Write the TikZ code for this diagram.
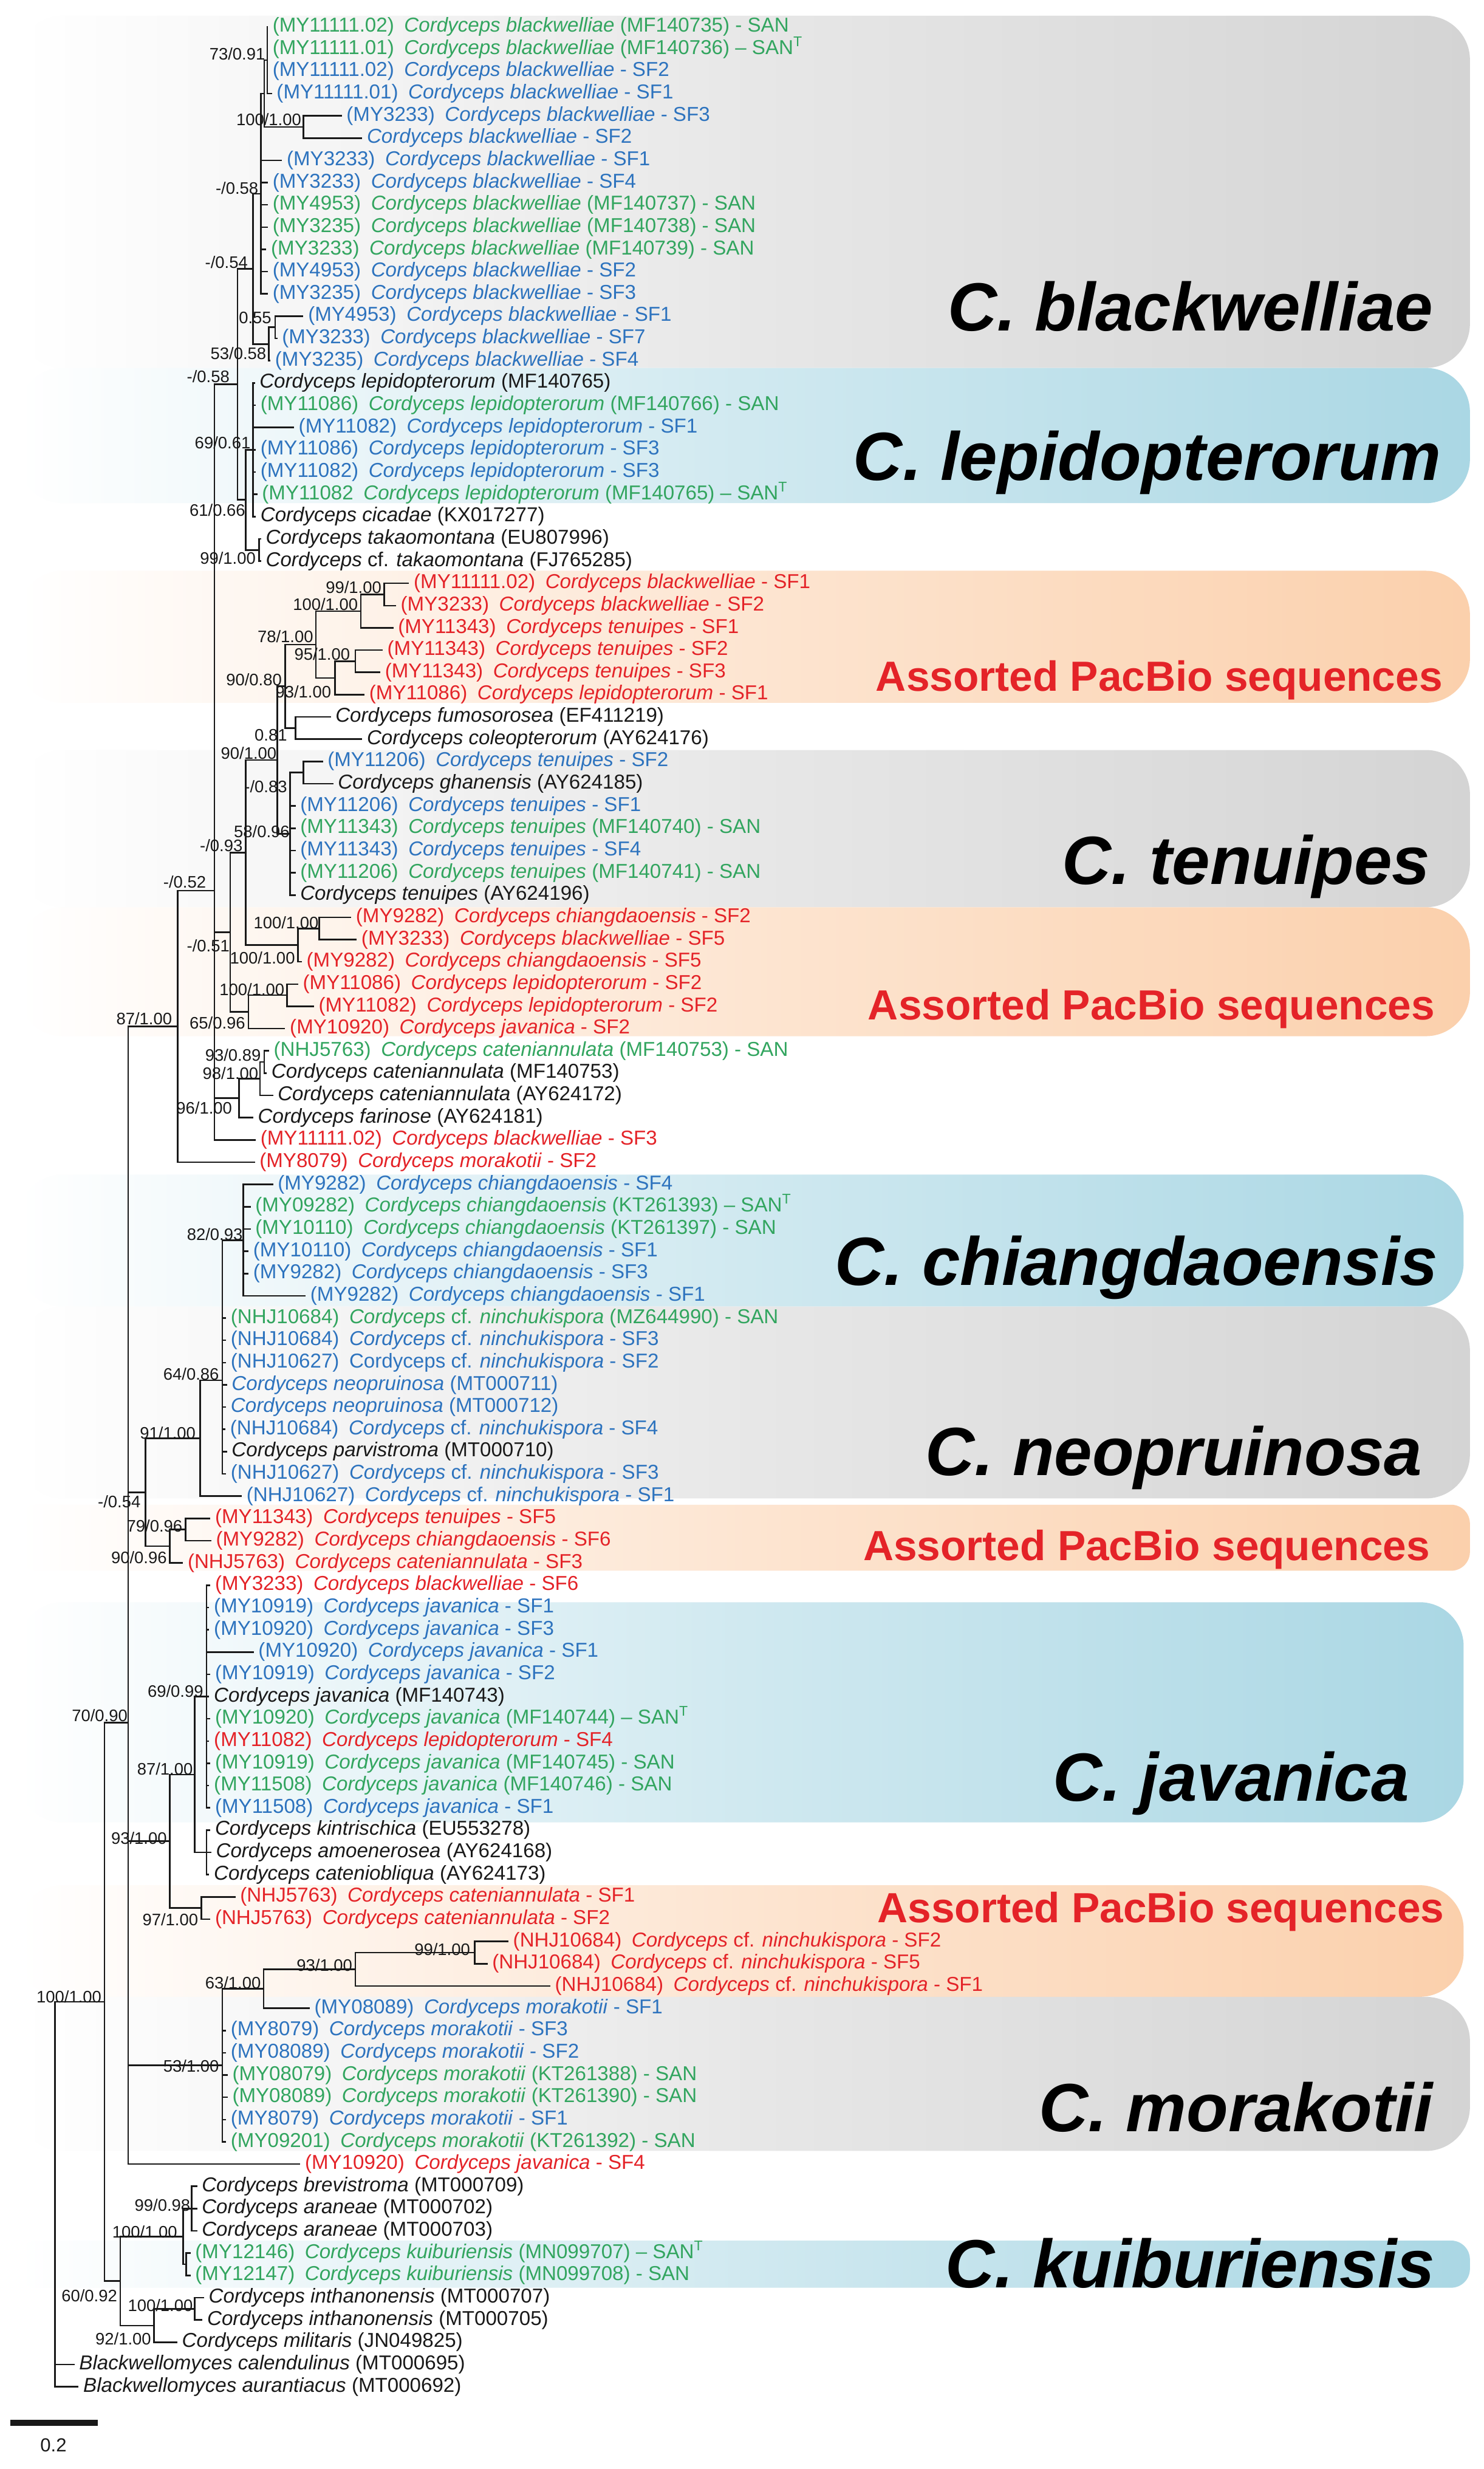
\documentclass[tikz,border=0pt]{standalone}
\usepackage{fontspec}
\setmainfont{Liberation Sans}
\definecolor{cgreen}{RGB}{50,165,95}
\definecolor{cblue}{RGB}{45,115,190}
\definecolor{cred}{RGB}{228,35,40}
\definecolor{cblack}{RGB}{25,25,25}
\definecolor{bggray}{RGB}{212,212,212}
\definecolor{bgblue}{RGB}{170,215,228}
\definecolor{bgpeach}{RGB}{251,208,172}
\newcommand\ry[1]{{2.84+14.16*(#1)}}
\newcommand\Csp[1]{\textit{Cordyceps #1}}
\newcommand\Ccf[1]{\textit{Cordyceps} cf. \textit{#1}}
\newcommand\idg{\hspace{0.5em}}
\newcommand\SANT{\textendash{} SAN\textsuperscript{T}}
\newcommand\tip[5]{\node[#2] (#1) at (#3,\ry{#4}) {#5};}
\newcommand\kids[2]{\foreach \c in {#2} {\draw[br] (#1) |- (\c);}}
\begin{document}
\begin{tikzpicture}[x=0.5pt,y=-0.5pt,
 lbl/.style={anchor=west,inner xsep=1.3pt,xshift=-1.3pt,inner ysep=0pt,font=\fontsize{6.4}{7}\selectfont,text height=4.6pt,text depth=1.3pt},
 grn/.style={lbl,text=cgreen},
 blu/.style={lbl,text=cblue},
 rd/.style={lbl,text=cred},
 blk/.style={lbl,text=cblack},
 sup/.style={anchor=east,inner sep=0pt,font=\fontsize{5.3}{6}\selectfont,text=cblack},
 br/.style={line width=0.5pt,draw=cblack},
 clade/.style={anchor=base east,inner sep=0pt,font=\fontsize{21.7}{24}\selectfont\bfseries\itshape,text=black},
 pacbio/.style={anchor=base east,inner sep=0pt,font=\fontsize{13.4}{15}\selectfont\bfseries,text=cred},
 bigbox/.style={rounded corners=14pt,left color=white,right color=#1,middle color=#1!55!white},
 smallbox/.style={rounded corners=6pt,left color=white,right color=#1,middle color=#1!55!white},
]
\useasboundingbox (0,0) rectangle (943.8,1570.3);
\fill[white] (0,0) rectangle (943.8,1570.3);
% clade backgrounds
\shade[bigbox=bggray] (12,10) rectangle (935,234);
\shade[bigbox=bgblue] (12,234) rectangle (935,320);
\shade[bigbox=bgpeach] (12,363) rectangle (935,447);
\shade[bigbox=bggray] (12,477) rectangle (935,577);
\shade[bigbox=bgpeach] (12,577) rectangle (935,659);
\shade[bigbox=bgblue] (12,747) rectangle (931,831);
\shade[bigbox=bggray] (12,831) rectangle (935,953);
\shade[smallbox=bgpeach] (12,957) rectangle (935,999);
\shade[bigbox=bgblue] (12,1019) rectangle (931,1159);
\shade[bigbox=bgpeach] (12,1199) rectangle (931,1270);
\shade[bigbox=bggray] (12,1270) rectangle (935,1368);
\shade[smallbox=bgblue] (12,1425) rectangle (935,1455);
% clade names
\node[clade] (k1) at (912,210.5) {C. blackwelliae};
\node[clade] (k2) at (917,305.5) {C. lepidopterorum};
\node[pacbio] (p1) at (918,439.6) {Assorted PacBio sequences};
\node[clade] (k3) at (910,562.5) {C. tenuipes};
\node[pacbio] (p2) at (913,648.6) {Assorted PacBio sequences};
\node[clade] (k4) at (915,817.5) {C. chiangdaoensis};
\node[clade] (k5) at (905,938.5) {C. neopruinosa};
\node[pacbio] (p3) at (910,992.6) {Assorted PacBio sequences};
\node[clade] (k6) at (897,1145.5) {C. javanica};
\node[pacbio] (p4) at (919,1222.6) {Assorted PacBio sequences};
\node[clade] (k7) at (912,1355.5) {C. morakotii};
\node[clade] (k8) at (913,1455) {C. kuiburiensis};
% tips
\tip{t1}{grn}{173}{1}{(MY11111.02)\idg\Csp{blackwelliae} (MF140735) - SAN}
\tip{t2}{grn}{173}{2}{(MY11111.01)\idg\Csp{blackwelliae} (MF140736) \SANT}
\tip{t3}{blu}{173}{3}{(MY11111.02)\idg\Csp{blackwelliae} - SF2}
\tip{t4}{blu}{175.6}{4}{(MY11111.01)\idg\Csp{blackwelliae} - SF1}
\tip{t5}{blu}{220}{5}{(MY3233)\idg\Csp{blackwelliae} - SF3}
\tip{t6}{blu}{233}{6}{\Csp{blackwelliae} - SF2}
\tip{t7}{blu}{182}{7}{(MY3233)\idg\Csp{blackwelliae} - SF1}
\tip{t8}{blu}{173}{8}{(MY3233)\idg\Csp{blackwelliae} - SF4}
\tip{t9}{grn}{173}{9}{(MY4953)\idg\Csp{blackwelliae} (MF140737) - SAN}
\tip{t10}{grn}{173}{10}{(MY3235)\idg\Csp{blackwelliae} (MF140738) - SAN}
\tip{t11}{grn}{172}{11}{(MY3233)\idg\Csp{blackwelliae} (MF140739) - SAN}
\tip{t12}{blu}{173}{12}{(MY4953)\idg\Csp{blackwelliae} - SF2}
\tip{t13}{blu}{173}{13}{(MY3235)\idg\Csp{blackwelliae} - SF3}
\tip{t14}{blu}{195.6}{14}{(MY4953)\idg\Csp{blackwelliae} - SF1}
\tip{t15}{blu}{179}{15}{(MY3233)\idg\Csp{blackwelliae} - SF7}
\tip{t16}{blu}{174.6}{16}{(MY3235)\idg\Csp{blackwelliae} - SF4}
\tip{t17}{blk}{164.7}{17}{\Csp{lepidopterorum} (MF140765)}
\tip{t18}{grn}{165.3}{18}{(MY11086)\idg\Csp{lepidopterorum} (MF140766) - SAN}
\tip{t19}{blu}{189.6}{19}{(MY11082)\idg\Csp{lepidopterorum} - SF1}
\tip{t20}{blu}{165.3}{20}{(MY11086)\idg\Csp{lepidopterorum} - SF3}
\tip{t21}{blu}{165.3}{21}{(MY11082)\idg\Csp{lepidopterorum} - SF3}
\tip{t22}{grn}{166.3}{22}{(MY11082\idg\Csp{lepidopterorum} (MF140765) \SANT}
\tip{t23}{blk}{165.3}{23}{\Csp{cicadae} (KX017277)}
\tip{t24}{blk}{168.7}{24}{\Csp{takaomontana} (EU807996)}
\tip{t25}{blk}{168.7}{25}{\Ccf{takaomontana} (FJ765285)}
\tip{t26}{rd}{262.8}{26}{(MY11111.02)\idg\Csp{blackwelliae} - SF1}
\tip{t27}{rd}{254.5}{27}{(MY3233)\idg\Csp{blackwelliae} - SF2}
\tip{t28}{rd}{252.8}{28}{(MY11343)\idg\Csp{tenuipes} - SF1}
\tip{t29}{rd}{246}{29}{(MY11343)\idg\Csp{tenuipes} - SF2}
\tip{t30}{rd}{244.5}{30}{(MY11343)\idg\Csp{tenuipes} - SF3}
\tip{t31}{rd}{234.5}{31}{(MY11086)\idg\Csp{lepidopterorum} - SF1}
\tip{t32}{blk}{213}{32}{\Csp{fumosorosea} (EF411219)}
\tip{t33}{blk}{233}{33}{\Csp{coleopterorum} (AY624176)}
\tip{t34}{blu}{208}{34}{(MY11206)\idg\Csp{tenuipes} - SF2}
\tip{t35}{blk}{214.6}{35}{\Csp{ghanensis} (AY624185)}
\tip{t36}{blu}{190.6}{36}{(MY11206)\idg\Csp{tenuipes} - SF1}
\tip{t37}{grn}{190.6}{37}{(MY11343)\idg\Csp{tenuipes} (MF140740) - SAN}
\tip{t38}{blu}{190.6}{38}{(MY11343)\idg\Csp{tenuipes} - SF4}
\tip{t39}{grn}{190.6}{39}{(MY11206)\idg\Csp{tenuipes} (MF140741) - SAN}
\tip{t40}{blk}{190.6}{40}{\Csp{tenuipes} (AY624196)}
\tip{t41}{rd}{226}{41}{(MY9282)\idg\Csp{chiangdaoensis} - SF2}
\tip{t42}{rd}{229.5}{42}{(MY3233)\idg\Csp{blackwelliae} - SF5}
\tip{t43}{rd}{194.6}{43}{(MY9282)\idg\Csp{chiangdaoensis} - SF5}
\tip{t44}{rd}{192.3}{44}{(MY11086)\idg\Csp{lepidopterorum} - SF2}
\tip{t45}{rd}{202.3}{45}{(MY11082)\idg\Csp{lepidopterorum} - SF2}
\tip{t46}{rd}{184}{46}{(MY10920)\idg\Csp{javanica} - SF2}
\tip{t47}{grn}{173.7}{47}{(NHJ5763)\idg\Csp{cateniannulata} (MF140753) - SAN}
\tip{t48}{blk}{172.3}{48}{\Csp{cateniannulata} (MF140753)}
\tip{t49}{blk}{176.3}{49}{\Csp{cateniannulata} (AY624172)}
\tip{t50}{blk}{163.7}{50}{\Csp{farinose} (AY624181)}
\tip{t51}{rd}{165.3}{51}{(MY11111.02)\idg\Csp{blackwelliae} - SF3}
\tip{t52}{rd}{164.7}{52}{(MY8079)\idg\Csp{morakotii} - SF2}
\tip{t53}{blu}{176.3}{53}{(MY9282)\idg\Csp{chiangdaoensis} - SF4}
\tip{t54}{grn}{162}{54}{(MY09282)\idg\Csp{chiangdaoensis} (KT261393) \SANT}
\tip{t55}{grn}{162}{55}{(MY10110)\idg\Csp{chiangdaoensis} (KT261397) - SAN}
\tip{t56}{blu}{160.7}{56}{(MY10110)\idg\Csp{chiangdaoensis} - SF1}
\tip{t57}{blu}{160.7}{57}{(MY9282)\idg\Csp{chiangdaoensis} - SF3}
\tip{t58}{blu}{197}{58}{(MY9282)\idg\Csp{chiangdaoensis} - SF1}
\tip{t59}{grn}{146.4}{59}{(NHJ10684)\idg\Ccf{ninchukispora} (MZ644990) - SAN}
\tip{t60}{blu}{146.4}{60}{(NHJ10684)\idg\Ccf{ninchukispora} - SF3}
\tip{t61}{blu}{146.4}{61}{(NHJ10627)\idg Cordyceps cf. \textit{ninchukispora} - SF2}
\tip{t62}{blu}{147}{62}{\Csp{neopruinosa} (MT000711)}
\tip{t63}{blu}{146.4}{63}{\Csp{neopruinosa} (MT000712)}
\tip{t64}{blu}{146}{64}{(NHJ10684)\idg\Ccf{ninchukispora} - SF4}
\tip{t65}{blk}{147}{65}{\Csp{parvistroma} (MT000710)}
\tip{t66}{blu}{146.4}{66}{(NHJ10627)\idg\Ccf{ninchukispora} - SF3}
\tip{t67}{blu}{156.4}{67}{(NHJ10627)\idg\Ccf{ninchukispora} - SF1}
\tip{t68}{rd}{136.4}{68}{(MY11343)\idg\Csp{tenuipes} - SF5}
\tip{t69}{rd}{137}{69}{(MY9282)\idg\Csp{chiangdaoensis} - SF6}
\tip{t70}{rd}{119}{70}{(NHJ5763)\idg\Csp{cateniannulata} - SF3}
\tip{t71}{rd}{136.4}{71}{(MY3233)\idg\Csp{blackwelliae} - SF6}
\tip{t72}{blu}{135.7}{72}{(MY10919)\idg\Csp{javanica} - SF1}
\tip{t73}{blu}{135.7}{73}{(MY10920)\idg\Csp{javanica} - SF3}
\tip{t74}{blu}{164}{74}{(MY10920)\idg\Csp{javanica} - SF1}
\tip{t75}{blu}{136.4}{75}{(MY10919)\idg\Csp{javanica} - SF2}
\tip{t76}{blk}{135.7}{76}{\Csp{javanica} (MF140743)}
\tip{t77}{grn}{136.4}{77}{(MY10920)\idg\Csp{javanica} (MF140744) \SANT}
\tip{t78}{rd}{135.7}{78}{(MY11082)\idg\Csp{lepidopterorum} - SF4}
\tip{t79}{grn}{136.4}{79}{(MY10919)\idg\Csp{javanica} (MF140745) - SAN}
\tip{t80}{grn}{135.7}{80}{(MY11508)\idg\Csp{javanica} (MF140746) - SAN}
\tip{t81}{blu}{136.4}{81}{(MY11508)\idg\Csp{javanica} - SF1}
\tip{t82}{blk}{136.4}{82}{\Csp{kintrischica} (EU553278)}
\tip{t83}{blk}{137}{83}{\Csp{amoenerosea} (AY624168)}
\tip{t84}{blk}{135.7}{84}{\Csp{cateniobliqua} (AY624173)}
\tip{t85}{rd}{152.4}{85}{(NHJ5763)\idg\Csp{cateniannulata} - SF1}
\tip{t86}{rd}{136.4}{86}{(NHJ5763)\idg\Csp{cateniannulata} - SF2}
\tip{t87}{rd}{326}{87}{(NHJ10684)\idg\Ccf{ninchukispora} - SF2}
\tip{t88}{rd}{312.7}{88}{(NHJ10684)\idg\Ccf{ninchukispora} - SF5}
\tip{t89}{rd}{352.6}{89}{(NHJ10684)\idg\Ccf{ninchukispora} - SF1}
\tip{t90}{blu}{199.6}{90}{(MY08089)\idg\Csp{morakotii} - SF1}
\tip{t91}{blu}{146.4}{91}{(MY8079)\idg\Csp{morakotii} - SF3}
\tip{t92}{blu}{146.4}{92}{(MY08089)\idg\Csp{morakotii} - SF2}
\tip{t93}{grn}{147.4}{93}{(MY08079)\idg\Csp{morakotii} (KT261388) - SAN}
\tip{t94}{grn}{147.4}{94}{(MY08089)\idg\Csp{morakotii} (KT261390) - SAN}
\tip{t95}{blu}{146.4}{95}{(MY8079)\idg\Csp{morakotii} - SF1}
\tip{t96}{grn}{146.4}{96}{(MY09201)\idg\Csp{morakotii} (KT261392) - SAN}
\tip{t97}{rd}{193.6}{97}{(MY10920)\idg\Csp{javanica} - SF4}
\tip{t98}{blk}{128}{98}{\Csp{brevistroma} (MT000709)}
\tip{t99}{blk}{128}{99}{\Csp{araneae} (MT000702)}
\tip{t100}{blk}{128}{100}{\Csp{araneae} (MT000703)}
\tip{t101}{grn}{123.8}{101}{(MY12146)\idg\Csp{kuiburiensis} (MN099707) \SANT}
\tip{t102}{grn}{123.8}{102}{(MY12147)\idg\Csp{kuiburiensis} (MN099708) - SAN}
\tip{t103}{blk}{132.4}{103}{\Csp{inthanonensis} (MT000707)}
\tip{t104}{blk}{131.4}{104}{\Csp{inthanonensis} (MT000705)}
\tip{t105}{blk}{115.4}{105}{\Csp{militaris} (JN049825)}
\tip{t106}{blk}{50}{106}{\textit{Blackwellomyces calendulinus} (MT000695)}
\tip{t107}{blk}{52.6}{107}{\textit{Blackwellomyces aurantiacus} (MT000692)}
% internal nodes
\coordinate (a1) at (170,\ry{2.5});
\coordinate (c100a) at (193,\ry{5.5});
\coordinate (U) at (168,\ry{4});
\coordinate (Na058) at (166,\ry{8.5});
\coordinate (n055) at (175,\ry{14.5});
\coordinate (n5358) at (171,\ry{15.25});
\coordinate (N054) at (161,\ry{11.875});
\coordinate (L69) at (161,\ry{20});
\coordinate (T99) at (164.7,\ry{24.5});
\coordinate (M66) at (156.4,\ry{22.25});
\coordinate (Nb058) at (151,\ry{17.06});
\coordinate (P99) at (244.5,\ry{26.5});
\coordinate (P100) at (229.5,\ry{27.25});
\coordinate (P95) at (226,\ry{29.5});
\coordinate (P93) at (213,\ry{30.25});
\coordinate (P78) at (201,\ry{28.75});
\coordinate (F81) at (188,\ry{32.5});
\coordinate (P90) at (181.3,\ry{30.625});
\coordinate (Gh) at (193,\ry{34.5});
\coordinate (G58) at (184.6,\ry{37.25});
\coordinate (Q90) at (176.3,\ry{33.94});
\coordinate (PB2a) at (203,\ry{41.5});
\coordinate (PB2) at (189.6,\ry{42.25});
\coordinate (H93) at (156.4,\ry{38.09});
\coordinate (L100) at (182.6,\ry{44.5});
\coordinate (K65) at (158,\ry{45.25});
\coordinate (I51) at (146.4,\ry{41.67});
\coordinate (C93) at (168,\ry{47.5});
\coordinate (C98) at (165.3,\ry{48.25});
\coordinate (C96) at (152,\ry{49.125});
\coordinate (J1) at (136.4,\ry{29.37});
\coordinate (J52) at (136.4,\ry{39.8});
\coordinate (N87) at (113,\ry{45.9});
\coordinate (CH82) at (154.7,\ry{55.5});
\coordinate (NE64) at (141.4,\ry{61.8});
\coordinate (N91) at (127.4,\ry{64.4});
\coordinate (T79) at (118,\ry{68.5});
\coordinate (T90) at (108,\ry{69.25});
\coordinate (N054b) at (92.5,\ry{66.83});
\coordinate (JV69) at (131.4,\ry{76});
\coordinate (K3) at (131.4,\ry{83});
\coordinate (J87) at (123.8,\ry{79.5});
\coordinate (C97) at (128,\ry{85.5});
\coordinate (N93j) at (108,\ry{82.5});
\coordinate (N99m) at (302,\ry{87.5});
\coordinate (N93m) at (226,\ry{88.25});
\coordinate (N63) at (167.7,\ry{89.125});
\coordinate (N53) at (141.4,\ry{92.56});
\coordinate (O70) at (81.5,\ry{77.17});
\coordinate (S99) at (121.8,\ry{99});
\coordinate (Kb) at (118.5,\ry{101.5});
\coordinate (S100) at (116.4,\ry{100.25});
\coordinate (In100) at (123.8,\ry{103.5});
\coordinate (S92) at (98,\ry{104.25});
\coordinate (N60) at (76.5,\ry{102.25});
\coordinate (R100) at (66.5,\ry{89.71});
\coordinate (Rt) at (35,\ry{98.36});
% branches
\kids{a1}{t1.west,t2.west,t3.west,t4.west}
\kids{c100a}{t5.west,t6.west}
\kids{U}{a1,c100a}
\kids{Na058}{U,t7.west,t8.west,t9.west,t10.west,t11.west,t12.west,t13.west}
\kids{n055}{t14.west,t15.west}
\kids{n5358}{n055,t16.west}
\kids{N054}{Na058,n5358}
\kids{L69}{t17.west,t18.west,t19.west,t20.west,t21.west,t22.west,t23.west}
\kids{T99}{t24.west,t25.west}
\kids{M66}{L69,T99}
\kids{Nb058}{N054,M66}
\kids{P99}{t26.west,t27.west}
\kids{P100}{P99,t28.west}
\kids{P95}{t29.west,t30.west}
\kids{P93}{P95,t31.west}
\kids{P78}{P100,P93}
\kids{F81}{t32.west,t33.west}
\kids{P90}{P78,F81}
\kids{Gh}{t34.west,t35.west}
\kids{G58}{Gh,t36.west,t37.west,t38.west,t39.west,t40.west}
\kids{Q90}{P90,G58}
\kids{PB2a}{t41.west,t42.west}
\kids{PB2}{PB2a,t43.west}
\kids{H93}{Q90,PB2}
\kids{L100}{t44.west,t45.west}
\kids{K65}{L100,t46.west}
\kids{I51}{H93,K65}
\kids{C93}{t47.west,t48.west}
\kids{C98}{C93,t49.west}
\kids{C96}{C98,t50.west}
\kids{J1}{Nb058,I51}
\kids{J52}{J1,C96,t51.west}
\kids{N87}{J52,t52.west}
\kids{CH82}{t53.west,t54.west,t55.west,t56.west,t57.west,t58.west}
\kids{NE64}{CH82,t59.west,t60.west,t61.west,t62.west,t63.west,t64.west,t65.west,t66.west}
\kids{N91}{NE64,t67.west}
\kids{T79}{t68.west,t69.west}
\kids{T90}{T79,t70.west}
\kids{N054b}{N91,T90}
\kids{JV69}{t71.west,t72.west,t73.west,t74.west,t75.west,t76.west,t77.west,t78.west,t79.west,t80.west,t81.west}
\kids{K3}{t82.west,t83.west,t84.west}
\kids{J87}{JV69,K3}
\kids{C97}{t85.west,t86.west}
\kids{N93j}{J87,C97}
\kids{N99m}{t87.west,t88.west}
\kids{N93m}{N99m,t89.west}
\kids{N63}{N93m,t90.west}
\kids{N53}{N63,t91.west,t92.west,t93.west,t94.west,t95.west,t96.west}
\kids{O70}{N87,N054b,N93j,N53,t97.west}
\kids{S99}{t98.west,t99.west,t100.west}
\kids{Kb}{t101.west,t102.west}
\kids{S100}{S99,Kb}
\kids{In100}{t103.west,t104.west}
\kids{S92}{In100,t105.west}
\kids{N60}{S100,S92}
\kids{R100}{O70,N60}
\kids{Rt}{R100,t106.west,t107.west}
% support values
\node[sup] (s1) at (169,34.1) {73/0.91};
\node[sup] (s2) at (192,76) {100/1.00};
\node[sup] (s3) at (164.7,119.8) {-/0.58};
\node[sup] (s4) at (158,166.8) {-/0.54};
\node[sup] (s5) at (173,202.2) {0.55};
\node[sup] (s6) at (169.7,224.8) {53/0.58};
\node[sup] (s7) at (146.4,239.6) {-/0.58};
\node[sup] (s8) at (159.7,281.4) {69/0.61};
\node[sup] (s9) at (156.4,324.6) {61/0.66};
\node[sup] (s10) at (163,354.8) {99/1.00};
\node[sup] (s11) at (243,373.5) {99/1.00};
\node[sup] (s12) at (228,384.5) {100/1.00};
\node[sup] (s13) at (199.6,405) {78/1.00};
\node[sup] (s14) at (223,416) {95/1.00};
\node[sup] (s15) at (179.6,432.1) {90/0.80};
\node[sup] (s16) at (211,439.8) {93/1.00};
\node[sup] (s17) at (183,467.5) {0.81};
\node[sup] (s18) at (176.3,479.1) {90/1.00};
\node[sup] (s19) at (183,500.4) {-/0.83};
\node[sup] (s20) at (184.6,528.7) {58/0.96};
\node[sup] (s21) at (154.7,537.7) {-/0.93};
\node[sup] (s22) at (131.4,561) {-/0.52};
\node[sup] (s23) at (203,586.7) {100/1.00};
\node[sup] (s24) at (146.4,601.5) {-/0.51};
\node[sup] (s25) at (188,609.2) {100/1.00};
\node[sup] (s26) at (181.3,629.2) {100/1.00};
\node[sup] (s27) at (109.8,647.9) {87/1.00};
\node[sup] (s28) at (156.4,650.4) {65/0.96};
\node[sup] (s29) at (166.3,671) {93/0.89};
\node[sup] (s30) at (164.7,682.6) {98/1.00};
\node[sup] (s31) at (148,704.5) {96/1.00};
\node[sup] (s32) at (154.7,785) {82/0.93};
\node[sup] (s33) at (139.7,873.9) {64/0.86};
\node[sup] (s34) at (124.8,911.3) {91/1.00};
\node[sup] (s35) at (89.8,955) {-/0.54};
\node[sup] (s36) at (116.4,970.5) {79/0.96};
\node[sup] (s37) at (106.5,990.5) {90/0.96};
\node[sup] (s38) at (129.7,1075.5) {69/0.99};
\node[sup] (s39) at (81.5,1091) {70/0.90};
\node[sup] (s40) at (123,1125) {87/1.00};
\node[sup] (s41) at (106.5,1168.9) {93/1.00};
\node[sup] (s42) at (126.4,1221) {97/1.00};
\node[sup] (s43) at (299.4,1239.7) {99/1.00};
\node[sup] (s44) at (224.5,1250) {93/1.00};
\node[sup] (s45) at (166.3,1260.9) {63/1.00};
\node[sup] (s46) at (64.9,1270) {100/1.00};
\node[sup] (s47) at (139.7,1313.8) {53/1.00};
\node[sup] (s48) at (121.4,1402.6) {99/0.98};
\node[sup] (s49) at (113.1,1419.4) {100/1.00};
\node[sup] (s50) at (74.9,1459.9) {60/0.92};
\node[sup] (s51) at (123,1466.4) {100/1.00};
\node[sup] (s52) at (96.5,1487.6) {92/1.00};
% scale bar
\coordinate (sb1) at (6.7,1541);
\coordinate (sb2) at (62.2,1541);
\draw[line width=1.9pt,cblack] (sb1) -- (sb2);
\node[inner sep=0pt,font=\fontsize{6}{7}\selectfont,text=cblack] (sbl) at (34,1555) {0.2};
\end{tikzpicture}
\end{document}
